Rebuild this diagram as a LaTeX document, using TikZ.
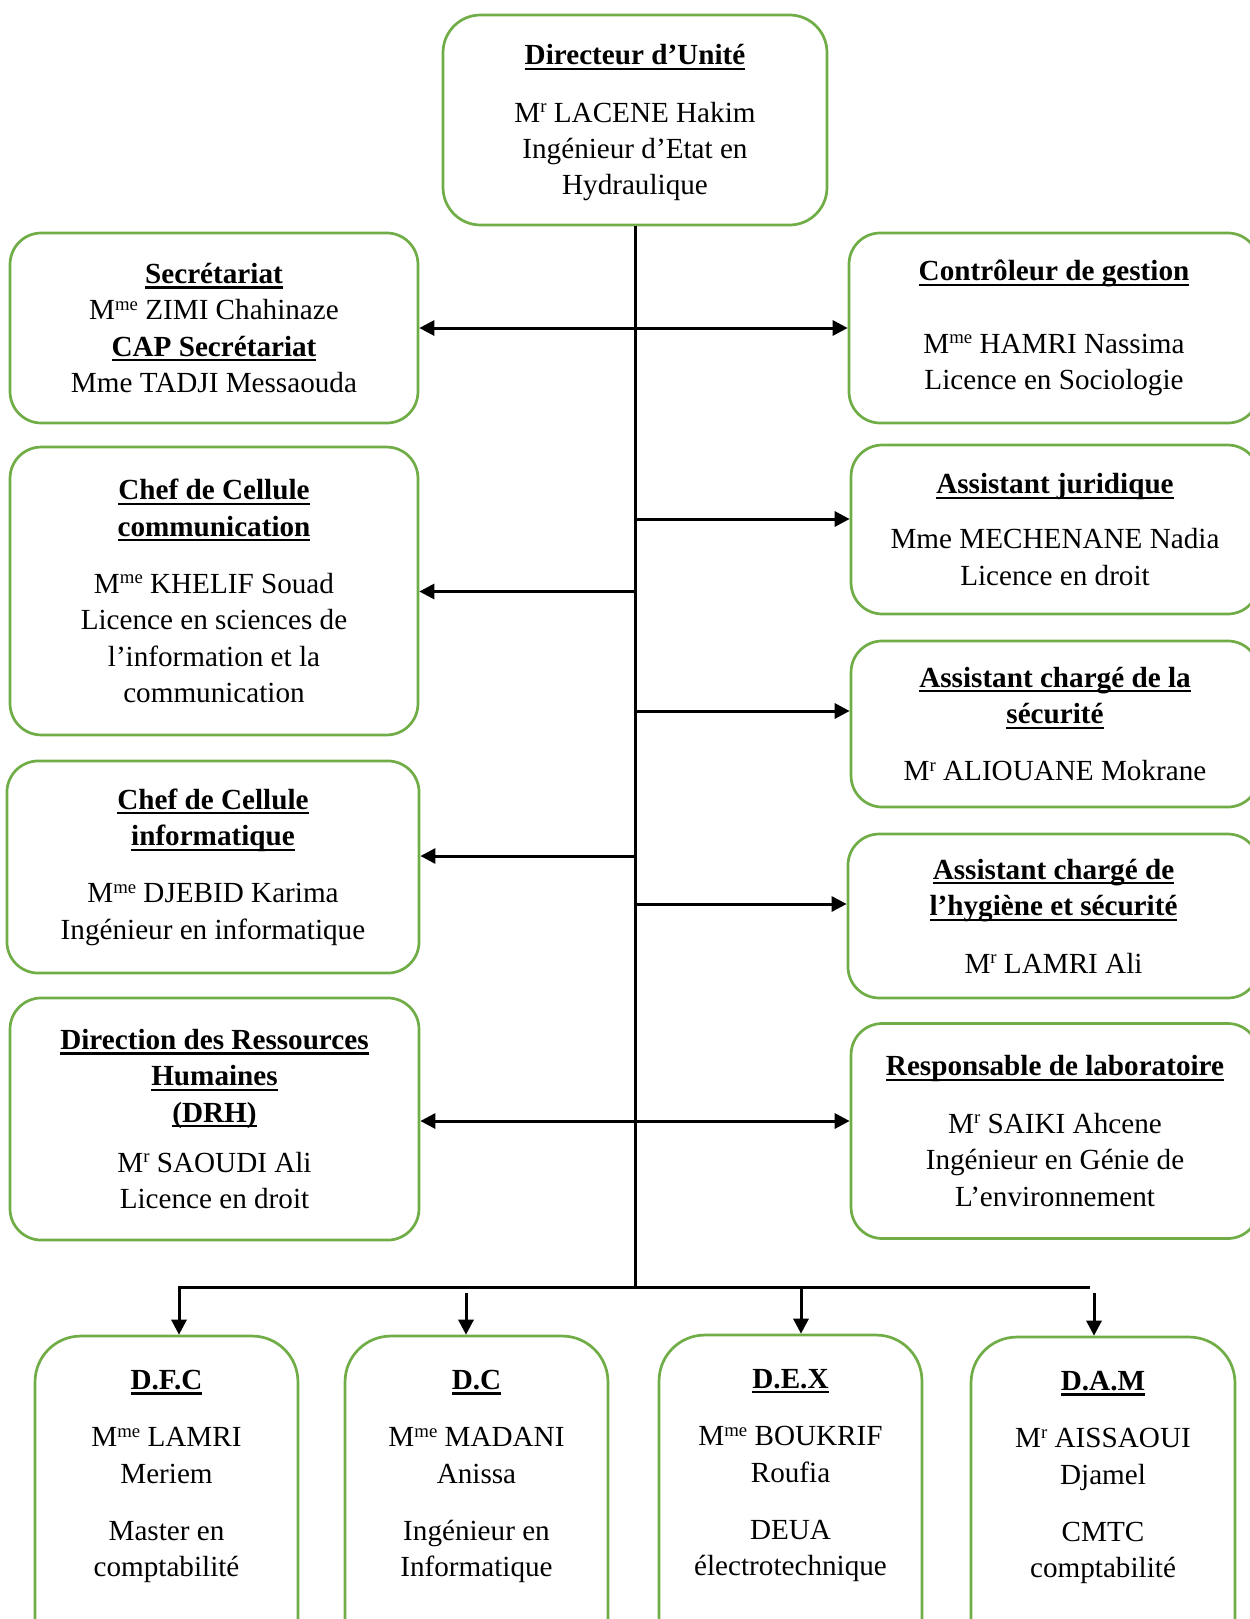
\documentclass[tikz,border=0pt]{standalone}
\usepackage{fontspec}
\setmainfont{Liberation Serif}
\usepackage{xcolor}
\usetikzlibrary{arrows.meta}
\definecolor{vertcadre}{RGB}{112,173,71}
\newcommand{\titre}[1]{\setbox0\hbox{\bfseries #1}\leavevmode\rlap{\rule[-2.5pt]{\wd0}{1pt}}\box0}
\newcommand{\exposant}[1]{\raisebox{4.5pt}{\fontsize{9}{9}\selectfont #1}}

\begin{document}
\begin{tikzpicture}[x=0.48pt,y=0.48pt,yscale=-1,xscale=1,
    boite/.style={draw=vertcadre, line width=1.3pt, rounded corners=15pt, align=center, inner sep=0pt, font=\fontsize{14}{17.5}\selectfont},
    trait/.style={line width=1.44pt},
    fleche/.style={trait, -{Triangle[length=7.2pt,width=7.2pt]}},
    fleche2/.style={trait, {Triangle[length=7.2pt,width=7.2pt]}-{Triangle[length=7.2pt,width=7.2pt]}}]
    %set diagram to 1250 x 1619
    \clip (0,0) rectangle (1250,1619);

    %Shape: Rounded Rect (top)
    \node [boite, rounded corners=18pt, minimum width=184.3pt, minimum height=100.8pt] (dir) at (635,120) {\rule{0pt}{12.5pt}\titre{Directeur d’Unité}\\[10pt] M\exposant{r} LACENE Hakim\\ Ingénieur d’Etat en\\ Hydraulique};

    %Shape: Rounded Rect (left column)
    \node [boite, minimum width=195.8pt, minimum height=91.2pt] (sec) at (214,328) {\titre{Secrétariat}\\ M\exposant{me} ZIMI Chahinaze\\ \titre{CAP Secrétariat}\\ Mme TADJI Messaouda};
    \node [boite, minimum width=195.8pt, minimum height=138.2pt] (comm) at (214,591) {\titre{Chef de Cellule}\\ \titre{communication}\\[10pt] M\exposant{me} KHELIF Souad\\ Licence en sciences de\\ l’information et la\\ communication};
    \node [boite, minimum width=197.8pt, minimum height=101.8pt] (info) at (213,867) {\titre{Chef de Cellule}\\ \titre{informatique}\\[10pt] M\exposant{me} DJEBID Karima\\ Ingénieur en informatique};
    \node [boite, minimum width=196.3pt, minimum height=116.2pt] (drh) at (214.5,1119) {\titre{Direction des Ressources}\\ \titre{Humaines}\\ \titre{(DRH)}\\[6.5pt] M\exposant{r} SAOUDI Ali\\ Licence en droit};

    %Shape: Rounded Rect (right column)
    \node [boite, minimum width=196.8pt, minimum height=91.2pt] (cg) at (1054,328) {\titre{Contrôleur de gestion}\\[17.5pt] M\exposant{me} HAMRI Nassima\\ Licence en Sociologie};
    \node [boite, minimum width=195.8pt, minimum height=81.1pt] (aj) at (1055,529.5) {\titre{Assistant juridique}\\[9pt] Mme MECHENANE Nadia\\ Licence en droit};
    \node [boite, minimum width=195.8pt, minimum height=79.7pt] (secu) at (1055,724) {\titre{Assistant chargé de la}\\ \titre{sécurité}\\[10pt] M\exposant{r} ALIOUANE Mokrane};
    \node [boite, minimum width=197.3pt, minimum height=78.7pt] (hyg) at (1053.5,916) {\titre{Assistant chargé de}\\ \titre{l’hygiène et sécurité}\\[10pt] M\exposant{r} LAMRI Ali};
    \node [boite, minimum width=195.8pt, minimum height=103.2pt] (labo) at (1055,1131) {\titre{Responsable de laboratoire}\\[10pt] M\exposant{r} SAIKI Ahcene\\ Ingénieur en Génie de\\ L’environnement};

    %Shape: Rounded Rect (bottom row)
    \node [boite, rounded corners=22pt, minimum width=126.2pt, minimum height=157.4pt] (dfc) at (166.5,1500) {\titre{D.F.C}\\[10pt] M\exposant{me} LAMRI\\ Meriem\\[10pt] Master en\\ comptabilité\\[8pt]\mbox{}};
    \node [boite, rounded corners=22pt, minimum width=126.2pt, minimum height=157.4pt] (dc) at (476.5,1500) {\titre{D.C}\\[10pt] M\exposant{me} MADANI\\ Anissa\\[10pt] Ingénieur en\\ Informatique\\[8pt]\mbox{}};
    \node [boite, rounded corners=22pt, minimum width=126.2pt, minimum height=157.4pt] (dex) at (790.5,1499) {\titre{D.E.X}\\[10pt] M\exposant{me} BOUKRIF\\ Roufia\\[10pt] DEUA\\ électrotechnique\\[8pt]\mbox{}};
    \node [boite, rounded corners=22pt, minimum width=126.7pt, minimum height=157.4pt] (dam) at (1103,1501) {\titre{D.A.M}\\[10pt] M\exposant{r} AISSAOUI\\ Djamel\\[10pt] CMTC\\ comptabilité\\[8pt]\mbox{}};

    %Points on the trunk and the bus
    \coordinate (bc) at (635,1287);
    \coordinate (p1) at (635,519);
    \coordinate (p2) at (635,591.5);
    \coordinate (p3) at (635,711);
    \coordinate (p4) at (635,856);
    \coordinate (p5) at (635,904);
    \coordinate (p6) at (635,1121);
    \coordinate (b1) at (179,1287);
    \coordinate (b2) at (466,1293);
    \coordinate (b3) at (801,1287);
    \coordinate (b4) at (1094,1293);
    \coordinate (bfin) at (1090,1287);

    %Straight Lines
    \draw [trait] (dir.south) -- (bc);
    \draw [fleche2] (sec.east) -- (cg.west);
    \draw [fleche] (p1) -- (p1 -| aj.west);
    \draw [fleche] (p2) -- (p2 -| comm.east);
    \draw [fleche] (p3) -- (p3 -| secu.west);
    \draw [fleche] (p4) -- (p4 -| info.east);
    \draw [fleche] (p5) -- (p5 -| hyg.west);
    \draw [fleche] (p6) -- (p6 -| drh.east);
    \draw [fleche] (p6) -- (p6 -| labo.west);

    %Bus and arrows down
    \draw [fleche] (bfin) -- (b1) -- (b1 |- dfc.north);
    \draw [fleche] (b2) -- (b2 |- dc.north);
    \draw [fleche] (b3) -- (b3 |- dex.north);
    \draw [fleche] (b4) -- (b4 |- dam.north);

\end{tikzpicture}
\end{document}
